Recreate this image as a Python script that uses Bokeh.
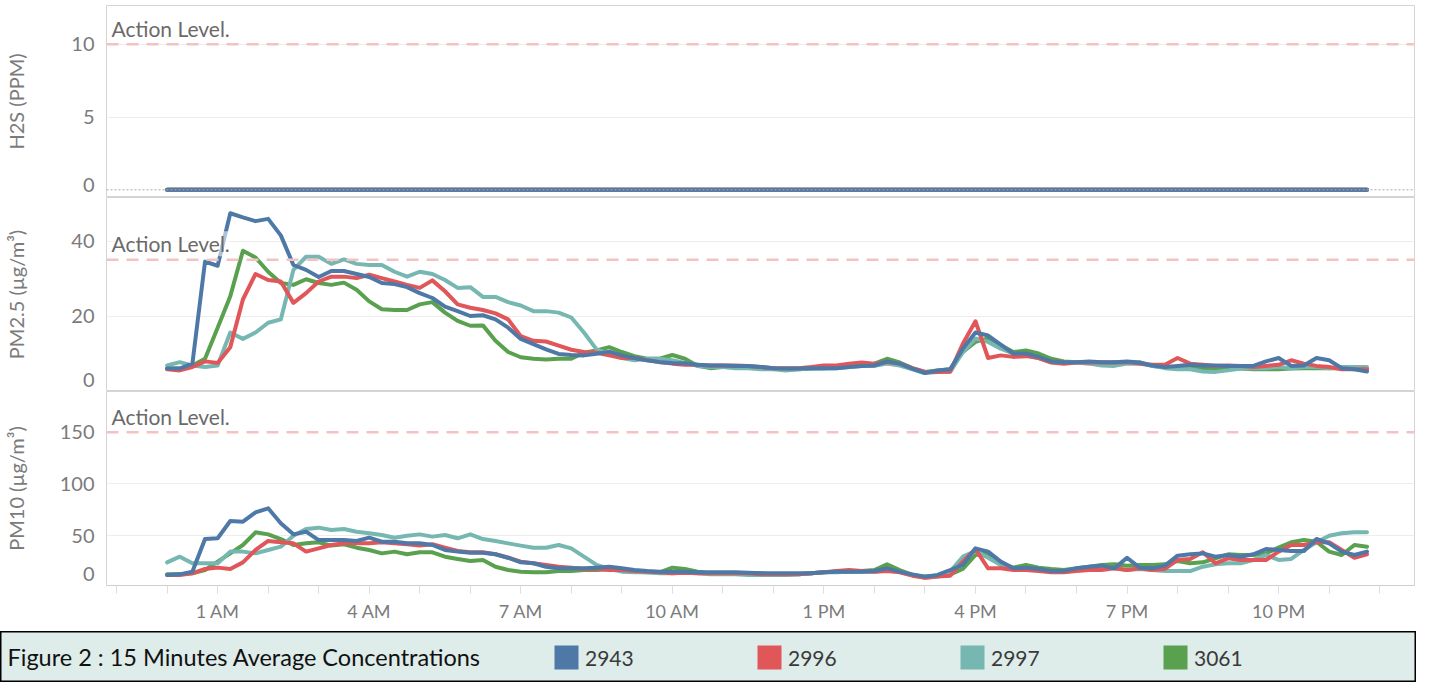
from bokeh.plotting import figure
from bokeh.layouts import column
from bokeh.models import Range1d, FixedTicker, Span, Label, Legend, LegendItem
from bokeh.embed import file_html
from bokeh.resources import INLINE

# ---------------- data ----------------
SERIES = ["2943", "2996", "2997", "3061"]
COLORS = {"2943": "#4e79a7", "2996": "#e15759", "2997": "#76b7b2", "3061": "#59a14f"}
DRAW_ORDER = ["3061", "2997", "2996", "2943"]

N_SAMPLES = 96          # 15-minute averages over one day
STEP_H = 0.25
HOURS = [i * STEP_H for i in range(N_SAMPLES)]

TICK_HOURS = [1, 4, 7, 10, 13, 16, 19, 22]
TICK_LABELS = ["1 AM", "4 AM", "7 AM", "10 AM", "1 PM", "4 PM", "7 PM", "10 PM"]
MINOR_HOURS = list(range(-1, 25))

H2S_2943 = [0, 0, 0, 0, 0, 0, 0, 0, 0, 0, 0, 0, 0, 0, 0, 0, 0, 0, 0, 0, 0, 0, 0, 0,
            0, 0, 0, 0, 0, 0, 0, 0, 0, 0, 0, 0, 0, 0, 0, 0, 0, 0, 0, 0, 0, 0, 0, 0,
            0, 0, 0, 0, 0, 0, 0, 0, 0, 0, 0, 0, 0, 0, 0, 0, 0, 0, 0, 0, 0, 0, 0, 0,
            0, 0, 0, 0, 0, 0, 0, 0, 0, 0, 0, 0, 0, 0, 0, 0, 0, 0, 0, 0, 0, 0, 0, 0]
H2S_2996 = [0, 0, 0, 0, 0, 0, 0, 0, 0, 0, 0, 0, 0, 0, 0, 0, 0, 0, 0, 0, 0, 0, 0, 0,
            0, 0, 0, 0, 0, 0, 0, 0, 0, 0, 0, 0, 0, 0, 0, 0, 0, 0, 0, 0, 0, 0, 0, 0,
            0, 0, 0, 0, 0, 0, 0, 0, 0, 0, 0, 0, 0, 0, 0, 0, 0, 0, 0, 0, 0, 0, 0, 0,
            0, 0, 0, 0, 0, 0, 0, 0, 0, 0, 0, 0, 0, 0, 0, 0, 0, 0, 0, 0, 0, 0, 0, 0]
H2S_2997 = [0, 0, 0, 0, 0, 0, 0, 0, 0, 0, 0, 0, 0, 0, 0, 0, 0, 0, 0, 0, 0, 0, 0, 0,
            0, 0, 0, 0, 0, 0, 0, 0, 0, 0, 0, 0, 0, 0, 0, 0, 0, 0, 0, 0, 0, 0, 0, 0,
            0, 0, 0, 0, 0, 0, 0, 0, 0, 0, 0, 0, 0, 0, 0, 0, 0, 0, 0, 0, 0, 0, 0, 0,
            0, 0, 0, 0, 0, 0, 0, 0, 0, 0, 0, 0, 0, 0, 0, 0, 0, 0, 0, 0, 0, 0, 0, 0]
H2S_3061 = [0, 0, 0, 0, 0, 0, 0, 0, 0, 0, 0, 0, 0, 0, 0, 0, 0, 0, 0, 0, 0, 0, 0, 0,
            0, 0, 0, 0, 0, 0, 0, 0, 0, 0, 0, 0, 0, 0, 0, 0, 0, 0, 0, 0, 0, 0, 0, 0,
            0, 0, 0, 0, 0, 0, 0, 0, 0, 0, 0, 0, 0, 0, 0, 0, 0, 0, 0, 0, 0, 0, 0, 0,
            0, 0, 0, 0, 0, 0, 0, 0, 0, 0, 0, 0, 0, 0, 0, 0, 0, 0, 0, 0, 0, 0, 0, 0]

PM25_2943 = [6.0, 6.0, 7.3, 34.5, 33.4, 47.4, 46.3, 45.3, 45.9, 41.5,
             33.6, 32.3, 30.4, 32.0, 32.0, 31.2, 30.4, 28.8, 28.5, 27.7,
             26.1, 24.8, 22.5, 21.3, 20.0, 20.2, 19.1, 16.9, 13.9, 12.5,
             11.1, 9.9, 9.6, 9.5, 9.9, 10.5, 9.5, 8.8, 8.2, 7.7,
             7.5, 7.4, 7.0, 6.8, 6.8, 6.7, 6.7, 6.4, 6.1, 6.0,
             6.0, 6.1, 6.1, 6.1, 6.4, 6.7, 6.8, 7.9, 7.3, 6.0,
             4.8, 5.5, 5.8, 11.3, 15.6, 14.8, 12.4, 10.0, 10.0, 9.1,
             7.9, 7.7, 7.7, 7.9, 7.7, 7.7, 7.9, 7.6, 6.8, 6.4,
             6.7, 7.0, 6.8, 6.8, 6.7, 6.7, 6.7, 7.9, 8.8, 6.7,
             6.8, 8.8, 8.2, 6.1, 5.8, 5.2]
PM25_2996 = [5.8, 5.5, 6.4, 7.9, 7.5, 11.7, 24.4, 31.2, 29.6, 29.2,
             23.5, 26.1, 29.2, 30.5, 30.5, 30.1, 31.0, 30.1, 29.2, 28.3,
             27.5, 29.5, 26.6, 23.1, 22.2, 21.6, 20.7, 19.1, 14.6, 13.4,
             13.2, 12.1, 11.0, 10.4, 10.2, 9.5, 8.8, 8.8, 8.2, 7.7,
             7.3, 7.0, 7.0, 6.8, 6.8, 6.8, 6.7, 6.4, 6.1, 6.1,
             6.1, 6.4, 6.8, 6.8, 7.3, 7.6, 7.3, 7.7, 7.3, 6.1,
             5.1, 5.1, 5.2, 12.6, 18.6, 8.8, 9.5, 9.1, 9.3, 8.8,
             7.6, 7.3, 7.6, 7.6, 7.7, 7.6, 7.7, 7.3, 7.0, 7.0,
             8.8, 7.3, 7.0, 6.7, 6.8, 6.7, 6.4, 6.7, 7.0, 8.2,
             7.3, 6.7, 6.4, 5.8, 5.8, 5.8]
PM25_2997 = [6.8, 7.7, 6.8, 6.4, 6.8, 15.6, 13.9, 15.6, 18.2, 19.1,
             32.3, 35.8, 35.8, 33.9, 35.1, 33.9, 33.6, 33.6, 31.8, 30.5,
             31.8, 31.2, 29.6, 27.5, 27.7, 25.1, 25.1, 23.7, 22.8, 21.3,
             21.3, 20.9, 19.6, 15.6, 11.1, 9.9, 8.8, 8.2, 8.6, 8.6,
             8.2, 7.5, 6.7, 6.4, 6.4, 6.1, 6.1, 5.8, 5.8, 5.5,
             5.8, 6.0, 6.0, 6.1, 6.4, 6.7, 6.7, 7.3, 6.8, 5.8,
             4.8, 5.1, 5.1, 10.4, 14.0, 13.1, 11.3, 10.0, 9.5, 8.8,
             7.7, 7.6, 7.6, 7.3, 6.8, 6.7, 7.3, 7.3, 6.7, 6.1,
             5.8, 5.8, 5.2, 5.1, 5.5, 6.0, 6.1, 6.1, 6.4, 6.1,
             6.4, 6.4, 6.1, 6.4, 6.4, 6.4]
PM25_3061 = [6.0, 6.0, 6.8, 8.6, 16.9, 25.3, 37.4, 35.6, 31.8, 28.8,
             28.3, 29.8, 28.8, 28.3, 28.9, 27.0, 23.9, 21.8, 21.6, 21.6,
             23.1, 23.7, 20.9, 18.7, 17.4, 17.5, 13.4, 10.4, 9.0, 8.6,
             8.4, 8.6, 8.6, 10.2, 10.8, 11.7, 10.4, 9.3, 8.6, 8.6,
             9.6, 8.6, 6.7, 6.1, 6.4, 6.4, 6.4, 6.1, 6.0, 5.8,
             5.8, 6.0, 6.1, 6.4, 6.7, 6.8, 7.3, 8.6, 7.6, 6.1,
             5.1, 5.5, 5.8, 10.4, 13.1, 14.0, 12.2, 10.4, 10.8, 10.0,
             8.6, 7.9, 7.7, 7.6, 7.3, 7.6, 7.6, 7.6, 6.7, 6.4,
             6.4, 6.4, 6.1, 6.1, 6.1, 6.0, 5.8, 5.8, 5.8, 6.0,
             6.1, 6.1, 6.1, 6.1, 6.0, 6.0]

PM10_2943 = [11.8, 12.4, 15.0, 46.6, 47.3, 64.0, 63.4, 72.4, 76.3, 61.8,
             51.1, 53.7, 45.6, 45.6, 45.6, 44.7, 47.9, 44.0, 44.0, 42.4,
             42.4, 40.8, 36.0, 34.4, 33.4, 33.4, 31.8, 28.5, 24.0, 23.1,
             19.8, 18.2, 18.2, 18.2, 18.9, 19.8, 18.2, 16.6, 15.6, 15.0,
             15.0, 15.0, 14.4, 14.4, 14.4, 14.4, 14.0, 13.4, 13.4, 13.4,
             13.4, 13.4, 14.4, 15.0, 15.0, 15.0, 15.6, 18.2, 15.0, 12.4,
             10.2, 11.8, 16.6, 21.5, 37.6, 34.4, 24.7, 18.2, 18.9, 17.6,
             15.6, 15.6, 18.2, 19.8, 20.8, 18.2, 28.5, 18.9, 18.2, 20.8,
             30.5, 31.8, 32.7, 29.5, 31.1, 29.5, 31.8, 36.9, 36.0, 35.0,
             35.0, 46.6, 42.4, 34.4, 31.1, 34.4]
PM10_2996 = [11.8, 11.8, 13.4, 17.6, 18.9, 17.6, 24.0, 36.0, 44.7, 43.4,
             42.4, 34.4, 37.6, 40.8, 42.4, 42.4, 42.4, 43.4, 42.4, 41.5,
             40.2, 41.5, 38.2, 35.0, 33.7, 33.7, 31.8, 28.5, 24.7, 23.1,
             21.5, 19.8, 18.9, 17.6, 17.6, 16.6, 16.6, 15.6, 15.0, 14.4,
             13.4, 13.9, 13.4, 13.4, 13.4, 13.4, 13.4, 12.4, 12.4, 12.4,
             12.4, 13.4, 14.4, 15.6, 16.6, 15.6, 15.0, 15.6, 14.4, 11.1,
             9.2, 10.2, 11.1, 24.7, 36.9, 18.2, 18.2, 16.6, 16.6, 15.6,
             14.4, 14.4, 15.6, 16.6, 16.6, 18.2, 16.6, 18.2, 16.6, 17.6,
             26.3, 27.3, 33.7, 23.1, 27.9, 26.3, 26.3, 26.3, 34.4, 40.8,
             40.8, 43.4, 43.4, 36.0, 28.5, 31.8]
PM10_2997 = [24.0, 29.5, 23.1, 23.1, 23.1, 34.4, 34.4, 32.7, 36.0, 39.2,
             49.8, 56.3, 57.6, 55.3, 56.3, 53.7, 52.1, 50.5, 47.9, 49.8,
             51.1, 48.9, 50.5, 47.3, 51.1, 46.6, 44.7, 42.4, 40.2, 38.2,
             38.2, 40.8, 37.6, 29.5, 21.5, 17.6, 15.0, 14.4, 14.4, 13.4,
             13.4, 14.2, 13.4, 12.4, 12.4, 12.4, 11.8, 11.8, 11.8, 11.8,
             12.4, 13.4, 14.4, 14.4, 15.0, 15.0, 15.0, 16.6, 15.0, 11.8,
             9.2, 10.2, 15.0, 29.5, 35.0, 28.5, 21.5, 17.6, 18.2, 16.6,
             15.6, 15.0, 16.6, 18.2, 18.9, 18.2, 16.6, 17.6, 16.6, 15.6,
             15.6, 15.6, 19.8, 22.1, 23.1, 23.1, 26.3, 31.1, 26.3, 27.3,
             36.0, 43.4, 49.8, 52.1, 53.1, 53.1]
PM10_3061 = [12.4, 12.4, 13.4, 16.6, 24.7, 32.7, 40.8, 53.1, 51.1, 46.6,
             40.8, 42.4, 43.4, 40.2, 41.5, 38.2, 36.0, 32.7, 34.4, 31.8,
             33.7, 33.7, 29.5, 27.3, 25.3, 26.3, 19.8, 16.6, 15.0, 14.4,
             14.4, 15.6, 15.6, 16.6, 16.6, 17.6, 16.6, 15.0, 14.4, 14.4,
             18.9, 17.5, 15.0, 13.4, 13.4, 13.4, 13.4, 13.4, 12.4, 12.4,
             12.4, 13.4, 14.4, 15.0, 15.0, 15.6, 16.6, 22.1, 16.6, 11.8,
             10.2, 11.1, 12.4, 17.6, 31.1, 32.7, 23.1, 18.9, 21.5, 18.9,
             17.6, 16.6, 18.2, 19.8, 21.5, 22.1, 20.8, 21.5, 21.5, 22.1,
             25.3, 23.1, 24.0, 27.9, 31.8, 31.1, 31.1, 32.7, 38.2, 43.4,
             45.6, 44.0, 34.4, 31.1, 40.8, 39.2]

H2S = {"2943": H2S_2943, "2996": H2S_2996, "2997": H2S_2997, "3061": H2S_3061}
PM25 = {"2943": PM25_2943, "2996": PM25_2996, "2997": PM25_2997, "3061": PM25_3061}
PM10 = {"2943": PM10_2943, "2996": PM10_2996, "2997": PM10_2997, "3061": PM10_3061}

ACTION_H2S, ACTION_PM25, ACTION_PM10 = 10, 35, 150
FIG_TITLE = "Figure 2 : 15 Minutes Average Concentrations"

# ---------------- style ----------------
FONT = "Lato"
GREY = "#7b7b7b"
BAND = "#deecea"
W = 1416
LEFT = 104
RIGHT = 2
X_RANGE = Range1d(-1.2, 24.69)
NAN = float("nan")


def panel(height, yr, ticks, labels, grid_ticks, title, action, data, title_standoff,
          zero_line=False, bottom_axis=False):
    axis_h = 46 if bottom_axis else 0
    p = figure(width=W, height=height + axis_h, x_range=X_RANGE, y_range=Range1d(*yr),
               output_backend="svg", toolbar_location=None,
               x_axis_location="below" if bottom_axis else None,
               min_border_left=LEFT, min_border_right=RIGHT,
               min_border_top=0, min_border_bottom=axis_h)
    p.outline_line_color = "#d4d4d4"
    p.xgrid.visible = False
    p.ygrid.ticker = FixedTicker(ticks=grid_ticks)
    p.ygrid.grid_line_color = "#ededed"

    ya = p.yaxis[0]
    # the "0" label sits a little above the frame edge, as in the original
    ya.ticker = FixedTicker(ticks=ticks)
    ya.major_label_overrides = dict(zip(ticks, labels))
    ya.axis_line_color = None
    ya.major_tick_out = 0
    ya.major_tick_in = 0
    ya.minor_tick_out = 0
    ya.minor_tick_in = 0
    ya.major_label_standoff = 12
    ya.major_label_text_font = FONT
    ya.major_label_text_font_size = "20px"
    ya.major_label_text_color = GREY
    ya.axis_label = title
    ya.axis_label_text_font = FONT
    ya.axis_label_text_font_size = "20px"
    ya.axis_label_text_font_style = "normal"
    ya.axis_label_text_color = GREY
    ya.axis_label_standoff = title_standoff

    if zero_line:
        p.add_layout(Span(location=0, dimension="width", line_color="#aaaaaa",
                          line_width=1, line_dash="2 2"))
    p.add_layout(Span(location=action, dimension="width", line_color="#f3c3c3",
                      line_width=2.5, line_dash="12 8"))

    for key in DRAW_ORDER:
        p.line(HOURS, data[key], line_color=COLORS[key], line_width=4,
               line_join="round", line_cap="round")

    p.add_layout(Label(x=X_RANGE.start, y=action, x_offset=5, y_offset=16,
                       text="Action Level.", text_baseline="middle",
                       text_font=FONT, text_font_size="21px", text_color="#6a6a6a",
                       background_fill_color="white", background_fill_alpha=0.55))

    if bottom_axis:
        xa = p.xaxis[0]
        xa.ticker = FixedTicker(ticks=TICK_HOURS, minor_ticks=MINOR_HOURS)
        xa.major_label_overrides = dict(zip(TICK_HOURS, TICK_LABELS))
        xa.major_tick_out = 8
        xa.major_tick_in = 0
        xa.minor_tick_out = 8
        xa.minor_tick_in = 0
        xa.major_tick_line_color = "#dedede"
        xa.minor_tick_line_color = "#dedede"
        xa.axis_line_color = "#cfcfcf"
        xa.major_label_standoff = 6
        xa.major_label_text_font = FONT
        xa.major_label_text_font_size = "18px"
        xa.major_label_text_color = GREY
    return p


# thin band at the top (end of the previous figure's caption strip)
strip = figure(width=W, height=5, x_range=Range1d(0, 1), y_range=Range1d(0, 5),
               output_backend="svg", toolbar_location=None, frame_align=False,
               x_axis_location=None, y_axis_location=None, min_border=0,
               background_fill_color=BAND, border_fill_color=BAND,
               outline_line_color=None)
strip.grid.visible = False
strip.add_layout(Span(location=0.8, dimension="width", line_color="black", line_width=1.5))

p1 = panel(192, (-0.53, 12.66), [0.3, 5, 10], ["0", "5", "10"], [5, 10],
           "H2S (PPM)", ACTION_H2S, H2S, 40, zero_line=True)
p2 = panel(194, (-0.13, 51.6), [3, 20, 40], ["0", "20", "40"], [20, 40],
           "PM2.5 (µg/m³)", ACTION_PM25, PM25, 40)
p3 = panel(194, (1.6, 189.4), [13, 50, 100, 150], ["0", "50", "100", "150"], [50, 100],
           "PM10 (µg/m³)", ACTION_PM10, PM10, 29, bottom_axis=True)

# ---------------- legend band ----------------
lg = figure(width=W, height=51, x_range=Range1d(0, 1), y_range=Range1d(0, 1),
            output_backend="svg", toolbar_location=None, frame_align=False,
            x_axis_location=None, y_axis_location=None, min_border=0,
            background_fill_color=BAND, border_fill_color=BAND,
            outline_line_color="black", outline_line_width=2)
lg.grid.visible = False
items = []
for key in SERIES:
    r = lg.quad(left=[NAN], right=[NAN], top=[NAN], bottom=[NAN],
                fill_color=COLORS[key], line_color=None)
    items.append(LegendItem(label=key, renderers=[r]))
legend = Legend(items=items, orientation="horizontal", location=(551, 10),
                glyph_width=30, glyph_height=30, label_standoff=4, label_width=169,
                spacing=0, padding=0, margin=0, border_line_color=None,
                background_fill_alpha=0, label_text_font=FONT,
                label_text_font_size="21px", label_text_color="#3a3a3a",
                label_text_baseline="middle")
lg.add_layout(legend)
lg.add_layout(Label(x=0, y=0.5, x_offset=7, text=FIG_TITLE, text_baseline="middle",
                    text_font=FONT, text_font_size="23.5px", text_color="#111111"))

layout = column(strip, p1, p2, p3, lg, spacing=0)
open("out.html", "w").write(file_html(layout, INLINE))
